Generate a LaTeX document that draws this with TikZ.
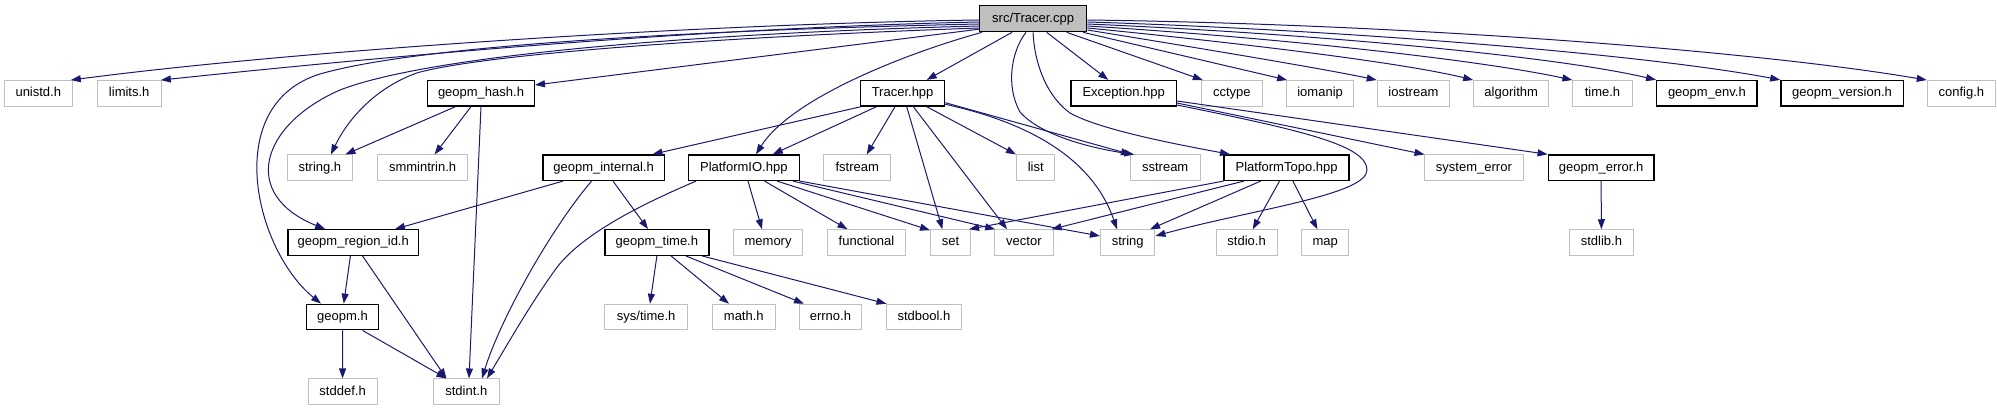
\documentclass[tikz,border=0pt]{standalone}
\usepackage{fontspec}
\setmainfont{Liberation Sans}
\usetikzlibrary{arrows.meta}
\definecolor{edgecol}{HTML}{191970}
\definecolor{gborder}{HTML}{BFBFBF}
\definecolor{rootfill}{HTML}{BFBFBF}
\tikzset{
  box/.style={rectangle, minimum height=25.5pt, inner sep=0pt, text height=9.8pt, text depth=3pt,
    font=\fontsize{13}{15}\selectfont, text=black},
  gbox/.style={box, draw=gborder, line width=1pt},
  bbox/.style={box, draw=black, line width=1.3pt},
  rbox/.style={box, draw=black, fill=rootfill, line width=1.3pt, minimum height=26pt},
  e/.style={draw=edgecol, line width=1pt, -{Triangle[length=10pt,width=7pt]}},
}
\begin{document}
\begin{tikzpicture}[x=1pt,y=-1pt]
\useasboundingbox (0,0) rectangle (1997,411);
% row 0
\node[rbox, minimum width=107.2] (T) at (1033.1,18.7) {src/Tracer.cpp};
% row 1
\node[gbox, minimum width=68] (unistd) at (38.3,93.3) {unistd.h};
\node[gbox, minimum width=64.3] (limits) at (129.2,93.3) {limits.h};
\node[bbox, minimum width=106.7] (hash) at (481,93.3) {geopm\_hash.h};
\node[bbox, minimum width=84.1] (tracerhpp) at (902.6,93.3) {Tracer.hpp};
\node[bbox, minimum width=105.3] (exception) at (1123.7,93.3) {Exception.hpp};
\node[gbox, minimum width=61.2] (cctype) at (1231.9,93.3) {cctype};
\node[gbox, minimum width=67] (iomanip) at (1320.1,93.3) {iomanip};
\node[gbox, minimum width=72.4] (iostream) at (1413.4,93.3) {iostream};
\node[gbox, minimum width=75] (algorithm) at (1511.2,93.3) {algorithm};
\node[gbox, minimum width=59.3] (timeh) at (1602.5,93.3) {time.h};
\node[bbox, minimum width=100.4] (env) at (1706.9,93.3) {geopm\_env.h};
\node[bbox, minimum width=122.3] (version) at (1842,93.3) {geopm\_version.h};
\node[gbox, minimum width=68.3] (config) at (1961.4,93.3) {config.h};
% row 2
\node[gbox, minimum width=64.7] (stringh) at (319.9,167.7) {string.h};
\node[gbox, minimum width=90.7] (smm) at (422.6,167.7) {smmintrin.h};
\node[bbox, minimum width=121.4] (internal) at (603.6,167.7) {geopm\_internal.h};
\node[bbox, minimum width=110.7] (pio) at (743.8,167.7) {PlatformIO.hpp};
\node[gbox, minimum width=66.9] (fstream) at (857.2,167.7) {fstream};
\node[gbox, minimum width=38.4] (list) at (1035.7,167.7) {list};
\node[gbox, minimum width=69.6] (sstream) at (1165.2,167.7) {sstream};
\node[bbox, minimum width=125] (ptopo) at (1286.6,167.7) {PlatformTopo.hpp};
\node[gbox, minimum width=98.6] (syserr) at (1473.9,167.7) {system\_error};
\node[bbox, minimum width=105.8] (gerr) at (1601.1,167.7) {geopm\_error.h};
% row 3
\node[bbox, minimum width=130.3] (regionid) at (353.2,242.5) {geopm\_region\_id.h};
\node[bbox, minimum width=104] (gtime) at (656.9,242.5) {geopm\_time.h};
\node[gbox, minimum width=69.2] (memory) at (768.1,242.5) {memory};
\node[gbox, minimum width=78.6] (functional) at (866.5,242.5) {functional};
\node[gbox, minimum width=40.1] (set) at (950.5,242.5) {set};
\node[gbox, minimum width=58.5] (vector) at (1023.9,242.5) {vector};
\node[gbox, minimum width=54.5] (string) at (1127.7,242.5) {string};
\node[gbox, minimum width=61.2] (stdio) at (1246.6,242.5) {stdio.h};
\node[gbox, minimum width=46.7] (map) at (1325.2,242.5) {map};
\node[gbox, minimum width=64.3] (stdlib) at (1601.4,242.5) {stdlib.h};
% row 4
\node[bbox, minimum width=72.3] (geopm) at (342.5,317) {geopm.h};
\node[gbox, minimum width=82.6] (systime) at (646.2,317) {sys/time.h};
\node[gbox, minimum width=62.5] (math) at (743.8,317) {math.h};
\node[gbox, minimum width=62.5] (errno) at (830.4,317) {errno.h};
\node[gbox, minimum width=74.6] (stdbool) at (923.9,317) {stdbool.h};
% row 5
\node[gbox, minimum width=69.2] (stddef) at (342.6,391.7) {stddef.h};
\node[gbox, minimum width=65.6] (stdint) at (466.3,391.7) {stdint.h};

% ---- edges from src/Tracer.cpp, left fan
\draw[e] ([yshift=-1.3]T.west) .. controls (700,24) and (300,50) .. ([xshift=-2]unistd.north east);
\draw[e] ([yshift=-3.3]T.west) .. controls (700,28) and (400,55) .. ([xshift=-1]limits.north east);
\draw[e] ([yshift=-5.3]T.west) .. controls (700,30) and (420,45) .. (320,74)
   .. controls (220,105) and (255,250) .. ([xshift=-21.5]geopm.north);
\draw[e] ([yshift=-7.3]T.west) .. controls (700,33) and (430,55) .. (340,90)
   .. controls (260,125) and (240,195) .. ([xshift=-28]regionid.north);
\draw[e] ([yshift=-9.3]T.west) .. controls (700,38) and (480,55) .. (416.7,73)
   .. controls (370,90) and (345,125) .. ([xshift=11]stringh.north);
\draw[e] ([yshift=-10.5]T.west) -- ([yshift=8.3]hash.east);
\draw[e] ([xshift=3]T.south west) .. controls (900,55) and (790,100) .. ([xshift=12.2]pio.north);
% bottom
\draw[e] ([xshift=-21.1]T.south) -- ([xshift=24.1]tracerhpp.north);
\draw[e] ([xshift=-7.1]T.south) .. controls (1012,50) and (1005,85) .. (1020,112)
   .. controls (1040,135) and (1090,148) .. ([xshift=-31]sstream.north);
\draw[e] (T.south) .. controls (1034,60) and (1045,95) .. (1070,113)
   .. controls (1100,130) and (1180,145) .. ([xshift=-56.6]ptopo.north);
\draw[e] ([xshift=13.6]T.south) -- ([xshift=-15.4]exception.north);
\draw[e] ([xshift=33.6]T.south) -- ([xshift=2]cctype.north west);
\draw[e] ([xshift=50]T.south) -- ([xshift=1]iomanip.north west);
% right fan
\draw[e] ([yshift=-1.3]T.east) .. controls (1400,24) and (1750,50) .. (config.north west);
\draw[e] ([yshift=-3.3]T.east) .. controls (1350,30) and (1650,55) .. (version.north west);
\draw[e] ([yshift=-5.3]T.east) .. controls (1300,33) and (1550,55) .. (env.north west);
\draw[e] ([yshift=-7.3]T.east) .. controls (1280,38) and (1480,60) .. (timeh.north west);
\draw[e] ([yshift=-9.3]T.east) .. controls (1230,42) and (1400,62) .. (algorithm.north west);
\draw[e] ([yshift=-11.3]T.east) .. controls (1180,45) and (1320,68) .. (iostream.north west);

% ---- Tracer.hpp
\draw[e] ([xshift=1]tracerhpp.south west) -- ([xshift=48.9]internal.north);
\draw[e] ([xshift=-26.1]tracerhpp.south) -- ([xshift=29]pio.north);
\draw[e] ([xshift=-7.6]tracerhpp.south) -- ([xshift=9.5]fstream.north);
\draw[e] ([xshift=4.1]tracerhpp.south) -- ([xshift=-8.1]set.north);
\draw[e] ([xshift=10.7]tracerhpp.south) -- ([xshift=-16.9]vector.north);
\draw[e] ([xshift=24.1]tracerhpp.south) -- (list.north west);
\draw[e] ([yshift=-9.4]tracerhpp.east) -- ([xshift=1]sstream.north west);
\draw[e] ([yshift=-11]tracerhpp.east) .. controls (1040,125) and (1095,165) .. ([xshift=-10.7]string.north);

% ---- geopm_hash.h
\draw[e] ([xshift=-25.6]hash.south) -- ([xshift=25.5]stringh.north);
\draw[e] ([xshift=-10]hash.south) -- ([xshift=12]smm.north);
\draw[e] (hash.south) -- ([xshift=2.7]stdint.north);

% ---- geopm_internal.h
\draw[e] ([xshift=-40.6]internal.south) -- ([xshift=41.8]regionid.north);
\draw[e] ([xshift=-12.1]internal.south) .. controls (550,230) and (500,320) .. ([xshift=15.7]stdint.north);
\draw[e] ([xshift=9.4]internal.south) -- ([xshift=-8.9]gtime.north);

% ---- PlatformIO.hpp
\draw[e] ([xshift=-47.8]pio.south) .. controls (640,205) and (580,235) .. (555,270)
   .. controls (530,305) and (510,340) .. ([xshift=20.7]stdint.north);
\draw[e] ([xshift=4.2]pio.south) -- ([xshift=-6.1]memory.north);
\draw[e] ([xshift=20.7]pio.south) -- ([xshift=-19]functional.north);
\draw[e] ([xshift=33.2]pio.south) -- ([yshift=-1]set.north west);
\draw[e] ([xshift=49.2]pio.south) -- ([xshift=1]vector.north west);
\draw[e] (pio.south east) -- ([yshift=6.5]string.west);

% ---- geopm_time.h
\draw[e] (gtime.south) -- ([xshift=3.8]systime.north);
\draw[e] ([xshift=14.1]gtime.south) -- ([xshift=-14.8]math.north);
\draw[e] ([xshift=28.8]gtime.south) -- ([xshift=-26.4]errno.north);
\draw[e] ([xshift=45.1]gtime.south) -- ([xshift=0.4]stdbool.north west);

% ---- geopm_region_id.h, geopm.h
\draw[e] ([xshift=-2.8]regionid.south) -- ([xshift=1.25]geopm.north);
\draw[e] ([xshift=9.3]regionid.south) -- ([xshift=-19.9]stdint.north);
\draw[e] (geopm.south) -- (stddef.north);
\draw[e] ([xshift=20]geopm.south) -- ([xshift=-19.9]stdint.north);

% ---- PlatformTopo.hpp
\draw[e] (ptopo.south west) -- ([xshift=-2]set.north east);
\draw[e] ([xshift=-42.8]ptopo.south) -- ([xshift=-2]vector.north east);
\draw[e] ([xshift=-25.9]ptopo.south) -- ([xshift=22.3]string.north);
\draw[e] ([xshift=-7.1]ptopo.south) -- ([xshift=6.1]stdio.north);
\draw[e] ([xshift=6.3]ptopo.south) -- ([xshift=-7.8]map.north);

% ---- Exception.hpp
\draw[e] ([yshift=-9.7]exception.east) -- ([xshift=0.4]syserr.north west);
\draw[e] ([yshift=-7.7]exception.east) -- (gerr.north west);
\draw[e] ([yshift=-11.7]exception.east) .. controls (1300,130) and (1367,145) .. (1367,170)
   .. controls (1367,195) and (1250,210) .. ([yshift=6.5]string.east);

% ---- geopm_error.h
\draw[e] (gerr.south) -- (stdlib.north);
\end{tikzpicture}
\end{document}
